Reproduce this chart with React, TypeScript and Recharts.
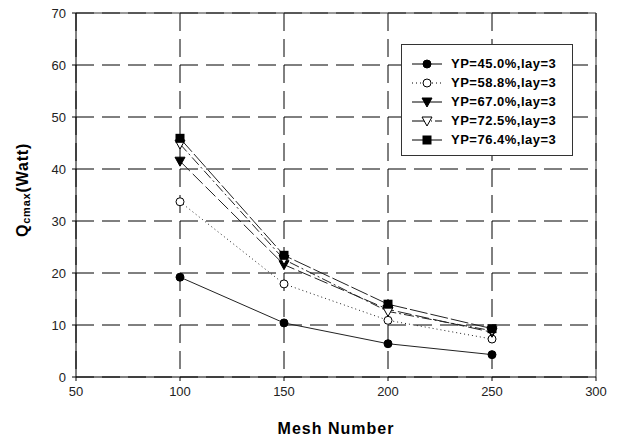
import {
  LineChart,
  Line,
  XAxis,
  YAxis,
  CartesianGrid,
  ReferenceLine,
  Label,
} from "recharts";

const meshNumbers = [100, 150, 200, 250];
const yp450 = [19.2, 10.4, 6.4, 4.3];
const yp588 = [33.7, 17.9, 10.9, 7.3];
const yp670 = [41.5, 21.6, 13.0, 8.6];
const yp725 = [44.8, 22.6, 12.6, 8.9];
const yp764 = [45.9, 23.4, 14.0, 9.3];

const xTicks = [50, 100, 150, 200, 250, 300];
const yTicks = [0, 10, 20, 30, 40, 50, 60, 70];

const seriesNames = [
  "YP=45.0%,lay=3",
  "YP=58.8%,lay=3",
  "YP=67.0%,lay=3",
  "YP=72.5%,lay=3",
  "YP=76.4%,lay=3",
];

const data = meshNumbers.map((m, i) => ({
  mesh: m,
  s1: yp450[i],
  s2: yp588[i],
  s3: yp670[i],
  s4: yp725[i],
  s5: yp764[i],
}));

type Shape = "circle" | "ocircle" | "tri" | "otri" | "square";

/* draw one marker at (cx, cy) */
function marker(shape: Shape, cx: number, cy: number, key?: string | number) {
  switch (shape) {
    case "circle":
      return <circle key={key} cx={cx} cy={cy} r={4} fill="#000" stroke="#000" />;
    case "ocircle":
      return <circle key={key} cx={cx} cy={cy} r={4} fill="#fff" stroke="#000" />;
    case "tri":
      return (
        <polygon
          key={key}
          points={`${cx - 5},${cy - 4} ${cx + 5},${cy - 4} ${cx},${cy + 5}`}
          fill="#000"
          stroke="#000"
        />
      );
    case "otri":
      return (
        <polygon
          key={key}
          points={`${cx - 5},${cy - 4} ${cx + 5},${cy - 4} ${cx},${cy + 5}`}
          fill="#fff"
          stroke="#000"
        />
      );
    default:
      return <rect key={key} x={cx - 4.5} y={cy - 4.5} width={9} height={9} fill="#000" />;
  }
}

const series: { key: string; shape: Shape; dash?: string }[] = [
  { key: "s1", shape: "circle" },
  { key: "s2", shape: "ocircle", dash: "1 3" },
  { key: "s3", shape: "tri", dash: "14 4" },
  { key: "s4", shape: "otri", dash: "10 3 2 3" },
  { key: "s5", shape: "square", dash: "18 3" },
];

function LegendBox() {
  return (
    <div
      style={{
        position: "absolute",
        left: 401,
        top: 44,
        width: 172,
        height: 112,
        border: "1px solid #333",
        background: "#fff",
        boxSizing: "border-box",
        paddingTop: 9,
      }}
    >
      {series.map((s, i) => (
        <div key={s.key} style={{ display: "flex", alignItems: "center", height: 19 }}>
          <svg width={48} height={14} style={{ marginLeft: 8 }}>
            <line
              x1={2}
              y1={7}
              x2={32}
              y2={7}
              stroke="#000"
              strokeDasharray={s.shape === "ocircle" ? "1 3" : s.shape === "otri" ? "16 3 1 3" : undefined}
            />
            {marker(s.shape, 17, 7)}
          </svg>
          <span
            style={{
              fontFamily: "Liberation Sans, Arial, sans-serif",
              fontWeight: "bold",
              fontSize: 13,
              letterSpacing: 0.5,
              color: "#000",
              marginLeft: -7,
              whiteSpace: "nowrap",
            }}
          >
            {seriesNames[i]}
          </span>
        </div>
      ))}
    </div>
  );
}

function YTitle() {
  return (
    <text
      x={22}
      y={190}
      transform="rotate(-90 22 190)"
      textAnchor="middle"
      dominantBaseline="central"
      fontFamily="Liberation Sans, Arial, sans-serif"
      fontWeight="bold"
      fontSize={16}
      letterSpacing={0.8}
      fill="#000"
    >
      Q
      <tspan fontSize={11} dy={4}>
        cmax
      </tspan>
      <tspan dy={-4}>(Watt)</tspan>
    </text>
  );
}

export default function App() {
  const tickStyle = {
    fontSize: 13,
    fill: "#222",
    fontFamily: "Liberation Sans, Arial, sans-serif",
  };
  return (
    <div style={{ position: "absolute", left: 0, top: 0, width: 617, height: 438, background: "#fff" }}>
      <LineChart
        width={617}
        height={438}
        data={data}
        margin={{ top: 13, right: 21, bottom: 0, left: 0 }}
      >
        <CartesianGrid stroke="#000" strokeDasharray="18 8" />
        <XAxis
          type="number"
          dataKey="mesh"
          domain={[50, 300]}
          ticks={xTicks}
          height={61}
          tick={tickStyle}
          tickSize={4}
          stroke="#000"
          tickMargin={6}
        >
          <Label
            value="Mesh Number"
            position="insideBottom"
            offset={4}
            style={{
              fontSize: 16,
              fontWeight: "bold",
              letterSpacing: 1,
              fill: "#000",
              fontFamily: "Liberation Sans, Arial, sans-serif",
            }}
          />
        </XAxis>
        <YAxis
          type="number"
          domain={[0, 70]}
          ticks={yTicks}
          width={76}
          tick={tickStyle}
          tickSize={4}
          stroke="#000"
          tickMargin={6}
        >
          <Label content={<YTitle />} />
        </YAxis>
        <ReferenceLine y={70} stroke="#333" />
        <ReferenceLine x={300} stroke="#333" />
        {series.map((s) => (
          <Line
            key={s.key}
            dataKey={s.key}
            name={s.key}
            stroke="#222"
            strokeWidth={1}
            strokeDasharray={s.dash}
            isAnimationActive={false}
            dot={(p: any) => marker(s.shape, p.cx, p.cy, `${s.key}-${p.index}`)}
            activeDot={false}
          />
        ))}
      </LineChart>
      <LegendBox />
    </div>
  );
}
